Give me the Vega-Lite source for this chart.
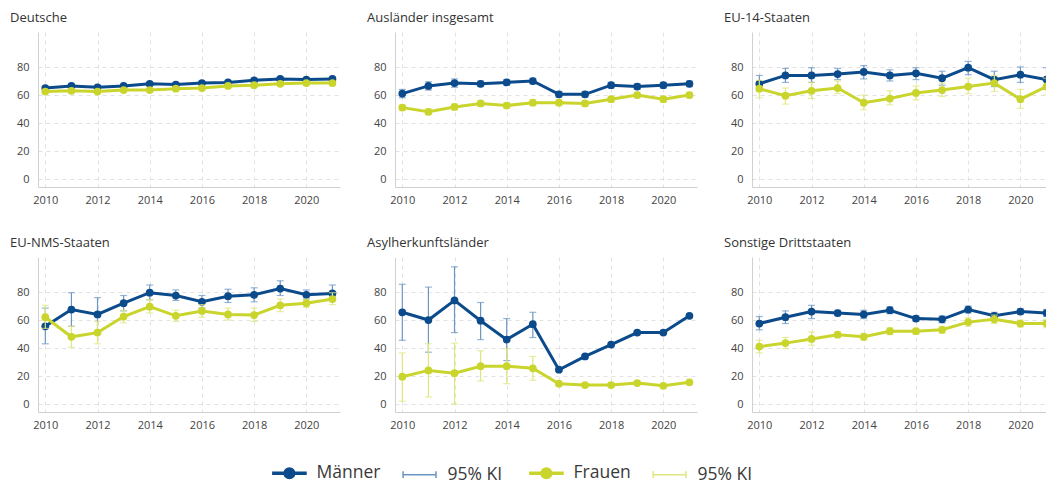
{
  "$schema": "https://vega.github.io/schema/vega-lite/v6.json",
  "padding": {"left": 10, "top": 12, "right": 0, "bottom": 0},
  "datasets": {
    "d": [
      {"g":"Deutsche","sex":"Männer","year":2010,"v":65,"lo":63.8,"hi":66.2},
      {"g":"Deutsche","sex":"Männer","year":2011,"v":66.5,"lo":65.3,"hi":67.7},
      {"g":"Deutsche","sex":"Männer","year":2012,"v":65.5,"lo":64.3,"hi":66.7},
      {"g":"Deutsche","sex":"Männer","year":2013,"v":66.5,"lo":65.3,"hi":67.7},
      {"g":"Deutsche","sex":"Männer","year":2014,"v":68,"lo":66.8,"hi":69.2},
      {"g":"Deutsche","sex":"Männer","year":2015,"v":67.5,"lo":66.3,"hi":68.7},
      {"g":"Deutsche","sex":"Männer","year":2016,"v":68.5,"lo":67.3,"hi":69.7},
      {"g":"Deutsche","sex":"Männer","year":2017,"v":69,"lo":67.8,"hi":70.2},
      {"g":"Deutsche","sex":"Männer","year":2018,"v":70.5,"lo":69.3,"hi":71.7},
      {"g":"Deutsche","sex":"Männer","year":2019,"v":71.5,"lo":70.3,"hi":72.7},
      {"g":"Deutsche","sex":"Männer","year":2020,"v":71,"lo":69.8,"hi":72.2},
      {"g":"Deutsche","sex":"Männer","year":2021,"v":71.5,"lo":70.3,"hi":72.7},
      {"g":"Deutsche","sex":"Frauen","year":2010,"v":62.5,"lo":61.3,"hi":63.7},
      {"g":"Deutsche","sex":"Frauen","year":2011,"v":63,"lo":61.8,"hi":64.2},
      {"g":"Deutsche","sex":"Frauen","year":2012,"v":62.5,"lo":61.3,"hi":63.7},
      {"g":"Deutsche","sex":"Frauen","year":2013,"v":63.5,"lo":62.3,"hi":64.7},
      {"g":"Deutsche","sex":"Frauen","year":2014,"v":63.5,"lo":62.3,"hi":64.7},
      {"g":"Deutsche","sex":"Frauen","year":2015,"v":64.5,"lo":63.3,"hi":65.7},
      {"g":"Deutsche","sex":"Frauen","year":2016,"v":65,"lo":63.8,"hi":66.2},
      {"g":"Deutsche","sex":"Frauen","year":2017,"v":66.5,"lo":65.3,"hi":67.7},
      {"g":"Deutsche","sex":"Frauen","year":2018,"v":67,"lo":65.8,"hi":68.2},
      {"g":"Deutsche","sex":"Frauen","year":2019,"v":68,"lo":66.8,"hi":69.2},
      {"g":"Deutsche","sex":"Frauen","year":2020,"v":68.5,"lo":67.3,"hi":69.7},
      {"g":"Deutsche","sex":"Frauen","year":2021,"v":68.5,"lo":67.3,"hi":69.7},

      {"g":"Ausländer insgesamt","sex":"Männer","year":2010,"v":61,"lo":58,"hi":64},
      {"g":"Ausländer insgesamt","sex":"Männer","year":2011,"v":66.5,"lo":63.5,"hi":69.5},
      {"g":"Ausländer insgesamt","sex":"Männer","year":2012,"v":68.5,"lo":65.5,"hi":71.5},
      {"g":"Ausländer insgesamt","sex":"Männer","year":2013,"v":68,"lo":66,"hi":70},
      {"g":"Ausländer insgesamt","sex":"Männer","year":2014,"v":69,"lo":67,"hi":71},
      {"g":"Ausländer insgesamt","sex":"Männer","year":2015,"v":70,"lo":68,"hi":72},
      {"g":"Ausländer insgesamt","sex":"Männer","year":2016,"v":60.5,"lo":58.5,"hi":62.5},
      {"g":"Ausländer insgesamt","sex":"Männer","year":2017,"v":60.5,"lo":58.5,"hi":62.5},
      {"g":"Ausländer insgesamt","sex":"Männer","year":2018,"v":67,"lo":65,"hi":69},
      {"g":"Ausländer insgesamt","sex":"Männer","year":2019,"v":66,"lo":64,"hi":68},
      {"g":"Ausländer insgesamt","sex":"Männer","year":2020,"v":67,"lo":65,"hi":69},
      {"g":"Ausländer insgesamt","sex":"Männer","year":2021,"v":68,"lo":66,"hi":70},
      {"g":"Ausländer insgesamt","sex":"Frauen","year":2010,"v":51,"lo":49,"hi":53},
      {"g":"Ausländer insgesamt","sex":"Frauen","year":2011,"v":48,"lo":46,"hi":50},
      {"g":"Ausländer insgesamt","sex":"Frauen","year":2012,"v":51.5,"lo":49.5,"hi":53.5},
      {"g":"Ausländer insgesamt","sex":"Frauen","year":2013,"v":54,"lo":52,"hi":56},
      {"g":"Ausländer insgesamt","sex":"Frauen","year":2014,"v":52.5,"lo":50.5,"hi":54.5},
      {"g":"Ausländer insgesamt","sex":"Frauen","year":2015,"v":54.5,"lo":52.5,"hi":56.5},
      {"g":"Ausländer insgesamt","sex":"Frauen","year":2016,"v":54.5,"lo":52.5,"hi":56.5},
      {"g":"Ausländer insgesamt","sex":"Frauen","year":2017,"v":54,"lo":52,"hi":56},
      {"g":"Ausländer insgesamt","sex":"Frauen","year":2018,"v":57,"lo":55,"hi":59},
      {"g":"Ausländer insgesamt","sex":"Frauen","year":2019,"v":60,"lo":58,"hi":62},
      {"g":"Ausländer insgesamt","sex":"Frauen","year":2020,"v":57,"lo":55,"hi":59},
      {"g":"Ausländer insgesamt","sex":"Frauen","year":2021,"v":60,"lo":58,"hi":62},

      {"g":"EU-14-Staaten","sex":"Männer","year":2010,"v":68,"lo":63,"hi":74},
      {"g":"EU-14-Staaten","sex":"Männer","year":2011,"v":74,"lo":69,"hi":79},
      {"g":"EU-14-Staaten","sex":"Männer","year":2012,"v":74,"lo":69,"hi":79.5},
      {"g":"EU-14-Staaten","sex":"Männer","year":2013,"v":75,"lo":71,"hi":79},
      {"g":"EU-14-Staaten","sex":"Männer","year":2014,"v":76.5,"lo":71.5,"hi":81},
      {"g":"EU-14-Staaten","sex":"Männer","year":2015,"v":74,"lo":70,"hi":78},
      {"g":"EU-14-Staaten","sex":"Männer","year":2016,"v":75.5,"lo":71,"hi":79.5},
      {"g":"EU-14-Staaten","sex":"Männer","year":2017,"v":72,"lo":67,"hi":77},
      {"g":"EU-14-Staaten","sex":"Männer","year":2018,"v":79.5,"lo":74.5,"hi":84},
      {"g":"EU-14-Staaten","sex":"Männer","year":2019,"v":71,"lo":66,"hi":77},
      {"g":"EU-14-Staaten","sex":"Männer","year":2020,"v":74.5,"lo":69,"hi":80},
      {"g":"EU-14-Staaten","sex":"Männer","year":2021,"v":71,"lo":64,"hi":79.5},
      {"g":"EU-14-Staaten","sex":"Frauen","year":2010,"v":64.5,"lo":58,"hi":70.5},
      {"g":"EU-14-Staaten","sex":"Frauen","year":2011,"v":59.5,"lo":53.5,"hi":65},
      {"g":"EU-14-Staaten","sex":"Frauen","year":2012,"v":63,"lo":57.5,"hi":69},
      {"g":"EU-14-Staaten","sex":"Frauen","year":2013,"v":65,"lo":61,"hi":70},
      {"g":"EU-14-Staaten","sex":"Frauen","year":2014,"v":54.5,"lo":49.5,"hi":60},
      {"g":"EU-14-Staaten","sex":"Frauen","year":2015,"v":57.5,"lo":53,"hi":63},
      {"g":"EU-14-Staaten","sex":"Frauen","year":2016,"v":61.5,"lo":56.5,"hi":66.5},
      {"g":"EU-14-Staaten","sex":"Frauen","year":2017,"v":63.5,"lo":59,"hi":68.5},
      {"g":"EU-14-Staaten","sex":"Frauen","year":2018,"v":66,"lo":61,"hi":72},
      {"g":"EU-14-Staaten","sex":"Frauen","year":2019,"v":68.5,"lo":62.5,"hi":74},
      {"g":"EU-14-Staaten","sex":"Frauen","year":2020,"v":57,"lo":50.5,"hi":64},
      {"g":"EU-14-Staaten","sex":"Frauen","year":2021,"v":66,"lo":60,"hi":72},

      {"g":"EU-NMS-Staaten","sex":"Männer","year":2010,"v":55.5,"lo":43,"hi":68.5},
      {"g":"EU-NMS-Staaten","sex":"Männer","year":2011,"v":67.5,"lo":55.5,"hi":79.5},
      {"g":"EU-NMS-Staaten","sex":"Männer","year":2012,"v":64,"lo":52,"hi":76},
      {"g":"EU-NMS-Staaten","sex":"Männer","year":2013,"v":72,"lo":66.5,"hi":77.5},
      {"g":"EU-NMS-Staaten","sex":"Männer","year":2014,"v":79.5,"lo":74.5,"hi":85},
      {"g":"EU-NMS-Staaten","sex":"Männer","year":2015,"v":77.5,"lo":74,"hi":81.5},
      {"g":"EU-NMS-Staaten","sex":"Männer","year":2016,"v":73,"lo":68.5,"hi":77.5},
      {"g":"EU-NMS-Staaten","sex":"Männer","year":2017,"v":77,"lo":72.5,"hi":82},
      {"g":"EU-NMS-Staaten","sex":"Männer","year":2018,"v":78,"lo":73,"hi":83},
      {"g":"EU-NMS-Staaten","sex":"Männer","year":2019,"v":82.5,"lo":77.5,"hi":88},
      {"g":"EU-NMS-Staaten","sex":"Männer","year":2020,"v":78,"lo":75,"hi":81.5},
      {"g":"EU-NMS-Staaten","sex":"Männer","year":2021,"v":79,"lo":74,"hi":85},
      {"g":"EU-NMS-Staaten","sex":"Frauen","year":2010,"v":62,"lo":54,"hi":70.5},
      {"g":"EU-NMS-Staaten","sex":"Frauen","year":2011,"v":48,"lo":40.5,"hi":55.5},
      {"g":"EU-NMS-Staaten","sex":"Frauen","year":2012,"v":51,"lo":43,"hi":59},
      {"g":"EU-NMS-Staaten","sex":"Frauen","year":2013,"v":62.5,"lo":58,"hi":67},
      {"g":"EU-NMS-Staaten","sex":"Frauen","year":2014,"v":69.5,"lo":65,"hi":74.5},
      {"g":"EU-NMS-Staaten","sex":"Frauen","year":2015,"v":63,"lo":59,"hi":67},
      {"g":"EU-NMS-Staaten","sex":"Frauen","year":2016,"v":66.5,"lo":62,"hi":71},
      {"g":"EU-NMS-Staaten","sex":"Frauen","year":2017,"v":64,"lo":60,"hi":68.5},
      {"g":"EU-NMS-Staaten","sex":"Frauen","year":2018,"v":63.5,"lo":59,"hi":68.5},
      {"g":"EU-NMS-Staaten","sex":"Frauen","year":2019,"v":70.5,"lo":66,"hi":75},
      {"g":"EU-NMS-Staaten","sex":"Frauen","year":2020,"v":72,"lo":69,"hi":75},
      {"g":"EU-NMS-Staaten","sex":"Frauen","year":2021,"v":75,"lo":71,"hi":79.5},

      {"g":"Asylherkunftsländer","sex":"Männer","year":2010,"v":65.5,"lo":45.5,"hi":85.5},
      {"g":"Asylherkunftsländer","sex":"Männer","year":2011,"v":60,"lo":37,"hi":83.5},
      {"g":"Asylherkunftsländer","sex":"Männer","year":2012,"v":74,"lo":51,"hi":98},
      {"g":"Asylherkunftsländer","sex":"Männer","year":2013,"v":59.5,"lo":46,"hi":72.5},
      {"g":"Asylherkunftsländer","sex":"Männer","year":2014,"v":46,"lo":31,"hi":61},
      {"g":"Asylherkunftsländer","sex":"Männer","year":2015,"v":57,"lo":47.5,"hi":65.5},
      {"g":"Asylherkunftsländer","sex":"Männer","year":2016,"v":24.5,"lo":23.5,"hi":25.5},
      {"g":"Asylherkunftsländer","sex":"Männer","year":2017,"v":34,"lo":33,"hi":35},
      {"g":"Asylherkunftsländer","sex":"Männer","year":2018,"v":42.5,"lo":41.5,"hi":43.5},
      {"g":"Asylherkunftsländer","sex":"Männer","year":2019,"v":51,"lo":50,"hi":52},
      {"g":"Asylherkunftsländer","sex":"Männer","year":2020,"v":51,"lo":50,"hi":52},
      {"g":"Asylherkunftsländer","sex":"Männer","year":2021,"v":63,"lo":62,"hi":64},
      {"g":"Asylherkunftsländer","sex":"Frauen","year":2010,"v":19.5,"lo":2,"hi":36.5},
      {"g":"Asylherkunftsländer","sex":"Frauen","year":2011,"v":24,"lo":5,"hi":43},
      {"g":"Asylherkunftsländer","sex":"Frauen","year":2012,"v":22,"lo":0,"hi":43.5},
      {"g":"Asylherkunftsländer","sex":"Frauen","year":2013,"v":27,"lo":16.5,"hi":38},
      {"g":"Asylherkunftsländer","sex":"Frauen","year":2014,"v":27,"lo":14.5,"hi":39.5},
      {"g":"Asylherkunftsländer","sex":"Frauen","year":2015,"v":25.5,"lo":17,"hi":34},
      {"g":"Asylherkunftsländer","sex":"Frauen","year":2016,"v":14.5,"lo":13.5,"hi":15.5},
      {"g":"Asylherkunftsländer","sex":"Frauen","year":2017,"v":13.5,"lo":12.5,"hi":14.5},
      {"g":"Asylherkunftsländer","sex":"Frauen","year":2018,"v":13.5,"lo":12.5,"hi":14.5},
      {"g":"Asylherkunftsländer","sex":"Frauen","year":2019,"v":15,"lo":14,"hi":16},
      {"g":"Asylherkunftsländer","sex":"Frauen","year":2020,"v":13,"lo":12,"hi":14},
      {"g":"Asylherkunftsländer","sex":"Frauen","year":2021,"v":15.5,"lo":14.5,"hi":16.5},

      {"g":"Sonstige Drittstaaten","sex":"Männer","year":2010,"v":57.5,"lo":53,"hi":62.5},
      {"g":"Sonstige Drittstaaten","sex":"Männer","year":2011,"v":62,"lo":57.5,"hi":66.5},
      {"g":"Sonstige Drittstaaten","sex":"Männer","year":2012,"v":66,"lo":61,"hi":70.5},
      {"g":"Sonstige Drittstaaten","sex":"Männer","year":2013,"v":65,"lo":63,"hi":67},
      {"g":"Sonstige Drittstaaten","sex":"Männer","year":2014,"v":64,"lo":61,"hi":67},
      {"g":"Sonstige Drittstaaten","sex":"Männer","year":2015,"v":67,"lo":64.5,"hi":69.5},
      {"g":"Sonstige Drittstaaten","sex":"Männer","year":2016,"v":61,"lo":59,"hi":63},
      {"g":"Sonstige Drittstaaten","sex":"Männer","year":2017,"v":60.5,"lo":58,"hi":63},
      {"g":"Sonstige Drittstaaten","sex":"Männer","year":2018,"v":67.5,"lo":65,"hi":70},
      {"g":"Sonstige Drittstaaten","sex":"Männer","year":2019,"v":63,"lo":60.5,"hi":65.5},
      {"g":"Sonstige Drittstaaten","sex":"Männer","year":2020,"v":66,"lo":64,"hi":68},
      {"g":"Sonstige Drittstaaten","sex":"Männer","year":2021,"v":65,"lo":62.5,"hi":67.5},
      {"g":"Sonstige Drittstaaten","sex":"Frauen","year":2010,"v":41,"lo":36.5,"hi":45.5},
      {"g":"Sonstige Drittstaaten","sex":"Frauen","year":2011,"v":43.5,"lo":39.5,"hi":47.5},
      {"g":"Sonstige Drittstaaten","sex":"Frauen","year":2012,"v":46.5,"lo":42,"hi":51.5},
      {"g":"Sonstige Drittstaaten","sex":"Frauen","year":2013,"v":49.5,"lo":47.5,"hi":51.5},
      {"g":"Sonstige Drittstaaten","sex":"Frauen","year":2014,"v":48,"lo":45.5,"hi":50.5},
      {"g":"Sonstige Drittstaaten","sex":"Frauen","year":2015,"v":52,"lo":49.5,"hi":54.5},
      {"g":"Sonstige Drittstaaten","sex":"Frauen","year":2016,"v":52,"lo":50,"hi":54},
      {"g":"Sonstige Drittstaaten","sex":"Frauen","year":2017,"v":53,"lo":50.5,"hi":55.5},
      {"g":"Sonstige Drittstaaten","sex":"Frauen","year":2018,"v":58.5,"lo":55.5,"hi":61.5},
      {"g":"Sonstige Drittstaaten","sex":"Frauen","year":2019,"v":60.5,"lo":57.5,"hi":63.5},
      {"g":"Sonstige Drittstaaten","sex":"Frauen","year":2020,"v":57.5,"lo":55,"hi":60},
      {"g":"Sonstige Drittstaaten","sex":"Frauen","year":2021,"v":57.5,"lo":54.5,"hi":60.5}
    ]
  },
  "data": {"name": "d"},
  "columns": 3,
  "bounds": "flush",
  "spacing": {"row": 70, "column": 55},
  "concat": [
    {
      "width": 302, "height": 155, "title": "Deutsche",
      "transform": [{"filter": "datum.g === 'Deutsche'"}],
      "encoding": {"x": {"field": "year", "type": "quantitative", "title": null, "scale": {"domain": [2009.72, 2021.29], "nice": false, "zero": false}, "axis": {"values": [2010, 2012, 2014, 2016, 2018, 2020], "format": "d", "title": null}}},
      "layer": [
        {"transform": [{"filter": "datum.sex === 'Männer'"}], "mark": {"type": "errorbar", "ticks": true, "color": "#6b95c2", "thickness": 1.2, "clip": true}, "encoding": {"y": {"field": "lo", "type": "quantitative", "title": null, "scale": {"domain": [-5.7, 105], "nice": false}, "axis": {"values": [0, 20, 40, 60, 80], "title": null}}, "y2": {"field": "hi"}}},
        {"transform": [{"filter": "datum.sex === 'Männer'"}], "mark": {"type": "line", "strokeWidth": 3, "clip": true, "point": {"filled": true, "size": 60, "clip": true}}, "encoding": {"y": {"field": "v", "type": "quantitative", "title": null, "scale": {"domain": [-5.7, 105], "nice": false}, "axis": {"values": [0, 20, 40, 60, 80], "title": null}}, "color": {"field": "sex", "type": "nominal", "scale": {"domain": ["Männer", "KI_M", "Frauen", "KI_F"], "range": ["#0b4a8b", "#6b95c2", "#c9d52c", "#dfe67c"]},
          "legend": {"title": null, "orient": "none", "legendX": 234, "legendY": 432, "direction": "horizontal", "padding": 0, "columnPadding": 19, "symbolSize": 300, "labelOffset": 27, "labelFontSize": 17.5, "labelColor": "#3a3a3a", "labelFont": "Open Sans",
            "labelExpr": "datum.label === 'KI_M' || datum.label === 'KI_F' ? '95% KI' : datum.label",
            "encode": {"symbols": {"update": {
              "shape": {"signal": "datum.value === 'Männer' || datum.value === 'Frauen' ? 'M-1,0L3,0M1.5,0A0.5,0.5 0 1 1 0.5,0A0.5,0.5 0 1 1 1.5,0' : 'M-1,-0.4L-1,0.4M-1,0L2.8,0M2.8,-0.4L2.8,0.4'"},
              "strokeWidth": {"signal": "datum.value === 'Männer' || datum.value === 'Frauen' ? 3.5 : 1.5"},
              "fill": {"signal": "datum.value === 'Männer' ? '#0b4a8b' : datum.value === 'Frauen' ? '#c9d52c' : 'transparent'"},
              "stroke": {"signal": "datum.value === 'Männer' ? '#0b4a8b' : datum.value === 'Frauen' ? '#c9d52c' : datum.value === 'KI_M' ? '#6b95c2' : '#dfe67c'"},
              "opacity": {"value": 1}
            }}}
          }}}},
        {"transform": [{"filter": "datum.sex === 'Frauen'"}], "mark": {"type": "errorbar", "ticks": true, "color": "#dfe67c", "thickness": 1.2, "clip": true}, "encoding": {"y": {"field": "lo", "type": "quantitative", "title": null, "scale": {"domain": [-5.7, 105], "nice": false}, "axis": {"values": [0, 20, 40, 60, 80], "title": null}}, "y2": {"field": "hi"}}},
        {"transform": [{"filter": "datum.sex === 'Frauen'"}], "mark": {"type": "line", "strokeWidth": 3, "clip": true, "point": {"filled": true, "size": 60, "clip": true}}, "encoding": {"y": {"field": "v", "type": "quantitative", "title": null, "scale": {"domain": [-5.7, 105], "nice": false}, "axis": {"values": [0, 20, 40, 60, 80], "title": null}}, "color": {"field": "sex", "type": "nominal", "scale": {"domain": ["Männer", "KI_M", "Frauen", "KI_F"], "range": ["#0b4a8b", "#6b95c2", "#c9d52c", "#dfe67c"]}}}}
      ]
    },
    {
      "width": 302, "height": 155, "title": "Ausländer insgesamt",
      "transform": [{"filter": "datum.g === 'Ausländer insgesamt'"}],
      "encoding": {"x": {"field": "year", "type": "quantitative", "title": null, "scale": {"domain": [2009.72, 2021.29], "nice": false, "zero": false}, "axis": {"values": [2010, 2012, 2014, 2016, 2018, 2020], "format": "d", "title": null}}},
      "layer": [
        {"transform": [{"filter": "datum.sex === 'Männer'"}], "mark": {"type": "errorbar", "ticks": true, "color": "#6b95c2", "thickness": 1.2, "clip": true}, "encoding": {"y": {"field": "lo", "type": "quantitative", "title": null, "scale": {"domain": [-5.7, 105], "nice": false}, "axis": {"values": [0, 20, 40, 60, 80], "title": null}}, "y2": {"field": "hi"}}},
        {"transform": [{"filter": "datum.sex === 'Männer'"}], "mark": {"type": "line", "strokeWidth": 3, "clip": true, "point": {"filled": true, "size": 60, "clip": true}}, "encoding": {"y": {"field": "v", "type": "quantitative", "title": null, "scale": {"domain": [-5.7, 105], "nice": false}, "axis": {"values": [0, 20, 40, 60, 80], "title": null}}, "color": {"field": "sex", "type": "nominal", "scale": {"domain": ["Männer", "KI_M", "Frauen", "KI_F"], "range": ["#0b4a8b", "#6b95c2", "#c9d52c", "#dfe67c"]}}}},
        {"transform": [{"filter": "datum.sex === 'Frauen'"}], "mark": {"type": "errorbar", "ticks": true, "color": "#dfe67c", "thickness": 1.2, "clip": true}, "encoding": {"y": {"field": "lo", "type": "quantitative", "title": null, "scale": {"domain": [-5.7, 105], "nice": false}, "axis": {"values": [0, 20, 40, 60, 80], "title": null}}, "y2": {"field": "hi"}}},
        {"transform": [{"filter": "datum.sex === 'Frauen'"}], "mark": {"type": "line", "strokeWidth": 3, "clip": true, "point": {"filled": true, "size": 60, "clip": true}}, "encoding": {"y": {"field": "v", "type": "quantitative", "title": null, "scale": {"domain": [-5.7, 105], "nice": false}, "axis": {"values": [0, 20, 40, 60, 80], "title": null}}, "color": {"field": "sex", "type": "nominal", "scale": {"domain": ["Männer", "KI_M", "Frauen", "KI_F"], "range": ["#0b4a8b", "#6b95c2", "#c9d52c", "#dfe67c"]}}}}
      ]
    },
    {
      "width": 294, "height": 155, "title": "EU-14-Staaten",
      "transform": [{"filter": "datum.g === 'EU-14-Staaten'"}],
      "encoding": {"x": {"field": "year", "type": "quantitative", "title": null, "scale": {"domain": [2009.72, 2020.98], "nice": false, "zero": false}, "axis": {"values": [2010, 2012, 2014, 2016, 2018, 2020], "format": "d", "title": null}}},
      "layer": [
        {"transform": [{"filter": "datum.sex === 'Männer'"}], "mark": {"type": "errorbar", "ticks": true, "color": "#6b95c2", "thickness": 1.2, "clip": true}, "encoding": {"y": {"field": "lo", "type": "quantitative", "title": null, "scale": {"domain": [-5.7, 105], "nice": false}, "axis": {"values": [0, 20, 40, 60, 80], "title": null}}, "y2": {"field": "hi"}}},
        {"transform": [{"filter": "datum.sex === 'Männer'"}], "mark": {"type": "line", "strokeWidth": 3, "clip": true, "point": {"filled": true, "size": 60, "clip": true}}, "encoding": {"y": {"field": "v", "type": "quantitative", "title": null, "scale": {"domain": [-5.7, 105], "nice": false}, "axis": {"values": [0, 20, 40, 60, 80], "title": null}}, "color": {"field": "sex", "type": "nominal", "scale": {"domain": ["Männer", "KI_M", "Frauen", "KI_F"], "range": ["#0b4a8b", "#6b95c2", "#c9d52c", "#dfe67c"]}}}},
        {"transform": [{"filter": "datum.sex === 'Frauen'"}], "mark": {"type": "errorbar", "ticks": true, "color": "#dfe67c", "thickness": 1.2, "clip": true}, "encoding": {"y": {"field": "lo", "type": "quantitative", "title": null, "scale": {"domain": [-5.7, 105], "nice": false}, "axis": {"values": [0, 20, 40, 60, 80], "title": null}}, "y2": {"field": "hi"}}},
        {"transform": [{"filter": "datum.sex === 'Frauen'"}], "mark": {"type": "line", "strokeWidth": 3, "clip": true, "point": {"filled": true, "size": 60, "clip": true}}, "encoding": {"y": {"field": "v", "type": "quantitative", "title": null, "scale": {"domain": [-5.7, 105], "nice": false}, "axis": {"values": [0, 20, 40, 60, 80], "title": null}}, "color": {"field": "sex", "type": "nominal", "scale": {"domain": ["Männer", "KI_M", "Frauen", "KI_F"], "range": ["#0b4a8b", "#6b95c2", "#c9d52c", "#dfe67c"]}}}}
      ]
    },
    {
      "width": 302, "height": 155, "title": "EU-NMS-Staaten",
      "transform": [{"filter": "datum.g === 'EU-NMS-Staaten'"}],
      "encoding": {"x": {"field": "year", "type": "quantitative", "title": null, "scale": {"domain": [2009.72, 2021.29], "nice": false, "zero": false}, "axis": {"values": [2010, 2012, 2014, 2016, 2018, 2020], "format": "d", "title": null}}},
      "layer": [
        {"transform": [{"filter": "datum.sex === 'Männer'"}], "mark": {"type": "errorbar", "ticks": true, "color": "#6b95c2", "thickness": 1.2, "clip": true}, "encoding": {"y": {"field": "lo", "type": "quantitative", "title": null, "scale": {"domain": [-5.7, 105], "nice": false}, "axis": {"values": [0, 20, 40, 60, 80], "title": null}}, "y2": {"field": "hi"}}},
        {"transform": [{"filter": "datum.sex === 'Männer'"}], "mark": {"type": "line", "strokeWidth": 3, "clip": true, "point": {"filled": true, "size": 60, "clip": true}}, "encoding": {"y": {"field": "v", "type": "quantitative", "title": null, "scale": {"domain": [-5.7, 105], "nice": false}, "axis": {"values": [0, 20, 40, 60, 80], "title": null}}, "color": {"field": "sex", "type": "nominal", "scale": {"domain": ["Männer", "KI_M", "Frauen", "KI_F"], "range": ["#0b4a8b", "#6b95c2", "#c9d52c", "#dfe67c"]}}}},
        {"transform": [{"filter": "datum.sex === 'Frauen'"}], "mark": {"type": "errorbar", "ticks": true, "color": "#dfe67c", "thickness": 1.2, "clip": true}, "encoding": {"y": {"field": "lo", "type": "quantitative", "title": null, "scale": {"domain": [-5.7, 105], "nice": false}, "axis": {"values": [0, 20, 40, 60, 80], "title": null}}, "y2": {"field": "hi"}}},
        {"transform": [{"filter": "datum.sex === 'Frauen'"}], "mark": {"type": "line", "strokeWidth": 3, "clip": true, "point": {"filled": true, "size": 60, "clip": true}}, "encoding": {"y": {"field": "v", "type": "quantitative", "title": null, "scale": {"domain": [-5.7, 105], "nice": false}, "axis": {"values": [0, 20, 40, 60, 80], "title": null}}, "color": {"field": "sex", "type": "nominal", "scale": {"domain": ["Männer", "KI_M", "Frauen", "KI_F"], "range": ["#0b4a8b", "#6b95c2", "#c9d52c", "#dfe67c"]}}}}
      ]
    },
    {
      "width": 302, "height": 155, "title": "Asylherkunftsländer",
      "transform": [{"filter": "datum.g === 'Asylherkunftsländer'"}],
      "encoding": {"x": {"field": "year", "type": "quantitative", "title": null, "scale": {"domain": [2009.72, 2021.29], "nice": false, "zero": false}, "axis": {"values": [2010, 2012, 2014, 2016, 2018, 2020], "format": "d", "title": null}}},
      "layer": [
        {"transform": [{"filter": "datum.sex === 'Männer'"}], "mark": {"type": "errorbar", "ticks": true, "color": "#6b95c2", "thickness": 1.2, "clip": true}, "encoding": {"y": {"field": "lo", "type": "quantitative", "title": null, "scale": {"domain": [-5.7, 105], "nice": false}, "axis": {"values": [0, 20, 40, 60, 80], "title": null}}, "y2": {"field": "hi"}}},
        {"transform": [{"filter": "datum.sex === 'Männer'"}], "mark": {"type": "line", "strokeWidth": 3, "clip": true, "point": {"filled": true, "size": 60, "clip": true}}, "encoding": {"y": {"field": "v", "type": "quantitative", "title": null, "scale": {"domain": [-5.7, 105], "nice": false}, "axis": {"values": [0, 20, 40, 60, 80], "title": null}}, "color": {"field": "sex", "type": "nominal", "scale": {"domain": ["Männer", "KI_M", "Frauen", "KI_F"], "range": ["#0b4a8b", "#6b95c2", "#c9d52c", "#dfe67c"]}}}},
        {"transform": [{"filter": "datum.sex === 'Frauen'"}], "mark": {"type": "errorbar", "ticks": true, "color": "#dfe67c", "thickness": 1.2, "clip": true}, "encoding": {"y": {"field": "lo", "type": "quantitative", "title": null, "scale": {"domain": [-5.7, 105], "nice": false}, "axis": {"values": [0, 20, 40, 60, 80], "title": null}}, "y2": {"field": "hi"}}},
        {"transform": [{"filter": "datum.sex === 'Frauen'"}], "mark": {"type": "line", "strokeWidth": 3, "clip": true, "point": {"filled": true, "size": 60, "clip": true}}, "encoding": {"y": {"field": "v", "type": "quantitative", "title": null, "scale": {"domain": [-5.7, 105], "nice": false}, "axis": {"values": [0, 20, 40, 60, 80], "title": null}}, "color": {"field": "sex", "type": "nominal", "scale": {"domain": ["Männer", "KI_M", "Frauen", "KI_F"], "range": ["#0b4a8b", "#6b95c2", "#c9d52c", "#dfe67c"]}}}}
      ]
    },
    {
      "width": 294, "height": 155, "title": "Sonstige Drittstaaten",
      "transform": [{"filter": "datum.g === 'Sonstige Drittstaaten'"}],
      "encoding": {"x": {"field": "year", "type": "quantitative", "title": null, "scale": {"domain": [2009.72, 2020.98], "nice": false, "zero": false}, "axis": {"values": [2010, 2012, 2014, 2016, 2018, 2020], "format": "d", "title": null}}},
      "layer": [
        {"transform": [{"filter": "datum.sex === 'Männer'"}], "mark": {"type": "errorbar", "ticks": true, "color": "#6b95c2", "thickness": 1.2, "clip": true}, "encoding": {"y": {"field": "lo", "type": "quantitative", "title": null, "scale": {"domain": [-5.7, 105], "nice": false}, "axis": {"values": [0, 20, 40, 60, 80], "title": null}}, "y2": {"field": "hi"}}},
        {"transform": [{"filter": "datum.sex === 'Männer'"}], "mark": {"type": "line", "strokeWidth": 3, "clip": true, "point": {"filled": true, "size": 60, "clip": true}}, "encoding": {"y": {"field": "v", "type": "quantitative", "title": null, "scale": {"domain": [-5.7, 105], "nice": false}, "axis": {"values": [0, 20, 40, 60, 80], "title": null}}, "color": {"field": "sex", "type": "nominal", "scale": {"domain": ["Männer", "KI_M", "Frauen", "KI_F"], "range": ["#0b4a8b", "#6b95c2", "#c9d52c", "#dfe67c"]}}}},
        {"transform": [{"filter": "datum.sex === 'Frauen'"}], "mark": {"type": "errorbar", "ticks": true, "color": "#dfe67c", "thickness": 1.2, "clip": true}, "encoding": {"y": {"field": "lo", "type": "quantitative", "title": null, "scale": {"domain": [-5.7, 105], "nice": false}, "axis": {"values": [0, 20, 40, 60, 80], "title": null}}, "y2": {"field": "hi"}}},
        {"transform": [{"filter": "datum.sex === 'Frauen'"}], "mark": {"type": "line", "strokeWidth": 3, "clip": true, "point": {"filled": true, "size": 60, "clip": true}}, "encoding": {"y": {"field": "v", "type": "quantitative", "title": null, "scale": {"domain": [-5.7, 105], "nice": false}, "axis": {"values": [0, 20, 40, 60, 80], "title": null}}, "color": {"field": "sex", "type": "nominal", "scale": {"domain": ["Männer", "KI_M", "Frauen", "KI_F"], "range": ["#0b4a8b", "#6b95c2", "#c9d52c", "#dfe67c"]}}}}
      ]
    }
  ],
  "config": {
    "font": "Open Sans",
    "view": {"stroke": null},
    "axis": {"grid": true, "gridDash": [4, 4], "gridColor": "#e2e2e2", "domainColor": "#d0d0d0", "ticks": false, "labelColor": "#444", "labelFontSize": 11, "title": null},
    "axisX": {"labelPadding": 7},
    "axisY": {"labelPadding": 9},
    "title": {"anchor": "start", "frame": "group", "fontSize": 13, "fontWeight": "normal", "color": "#333", "offset": 7, "dx": -28},
    "errorbar": {"ticks": {"size": 7}}
  }
}
